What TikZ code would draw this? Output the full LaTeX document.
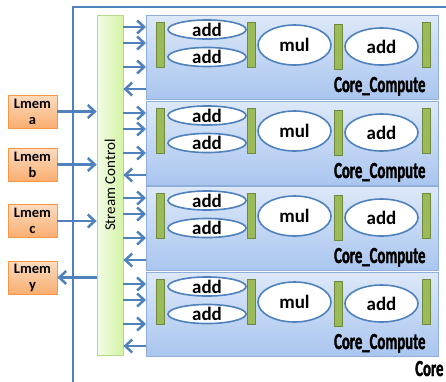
\documentclass[tikz,border=0pt]{standalone}
\usepackage{fontspec}
\setmainfont{Carlito}
\newfontfamily\narrowfont[FakeStretch=0.64,FakeBold=1.6]{Carlito Bold}
\usetikzlibrary{arrows.meta,shapes.geometric}
\definecolor{lnblue}{HTML}{4F81BD}
\definecolor{ccline}{HTML}{8EAEDC}
\definecolor{cctop}{HTML}{DDE8F9}
\definecolor{ccbot}{HTML}{A9C5EF}
\definecolor{orline}{HTML}{F79646}
\definecolor{ortop}{HTML}{FCDCC0}
\definecolor{orbot}{HTML}{F9AE70}
\definecolor{regfill}{HTML}{9BBB59}
\definecolor{regline}{HTML}{71893F}
\definecolor{scline}{HTML}{B5D98A}
\definecolor{scleft}{HTML}{F2FCE6}
\definecolor{scright}{HTML}{D4F4A6}
\tikzset{lm/.append style={draw=orline,thick,top color=ortop,bottom color=orbot,minimum width=49pt,minimum height=33pt,inner sep=0pt,align=center,font=\fontsize{14.5}{16}\selectfont\bfseries}}
\tikzset{cc/.append style={draw=ccline,thick,top color=cctop,bottom color=ccbot,minimum width=292pt,minimum height=84pt,inner sep=0pt,anchor=north west}}
\tikzset{rg/.append style={draw=regline,fill=regfill,thick,minimum width=8pt,minimum height=45pt,inner sep=0pt}}
\tikzset{op/.append style={draw=lnblue,line width=1.6pt,fill=white,ellipse,inner sep=0pt,font=\fontsize{19}{19}\selectfont\bfseries}}
\tikzset{ln/.append style={draw=lnblue,line width=2.2pt,-{Straight Barb[length=7pt,width=13pt,line width=2.5pt]}}}

\begin{document}
\begin{tikzpicture}[x=1pt,y=-1pt]
                \useasboundingbox (0,0) rectangle (446,381);
                \clip (0,0) rectangle (446,381);
                % core frame
                \draw[lnblue,line width=2pt] (73,400) -- (73,7) -- (470,7);
                \node[anchor=base east,font=\narrowfont\fontsize{23}{23}\selectfont] (core) at (447,376) {Core};
                % stream control
                \node[draw=scline,thick,left color=scleft,right color=scright,minimum width=26pt,minimum height=340pt,inner sep=0pt] (sc) at (110,185) {};
                \node[rotate=90,font=\fontsize{15}{15}\selectfont] (sctext) at (sc.center) {Stream Control};
                % local memories
                \node[lm] (la) at (32.5,111.5) {Lmem\\a};
                \node[lm] (lb) at (32.5,164.5) {Lmem\\b};
                \node[lm] (lc) at (32.5,221) {Lmem\\c};
                \node[lm] (ly) at (32.5,277.5) {Lmem\\y};
                \draw[ln] (la.east) -- (la.east -| sc.west);
                \draw[ln] (lb.east) -- (lb.east -| sc.west);
                \draw[ln] (lc.east) -- (lc.east -| sc.west);
                \draw[ln] (ly.east -| sc.west) -- (ly.east);
                % compute cores
                \foreach \i/\t in {1/15,2/101,3/186,4/272}{
                \node[cc] (cc\i) at (146,\t) {};
                \node[rg] (ra\i) at (160,\t+29.5) {};
                \node[rg] (rb\i) at (251.5,\t+29.5) {};
                \node[rg] (rc\i) at (338.5,\t+31.5) {};
                \node[rg] (rd\i) at (426,\t+29.5) {};
                \node[op,minimum width=78pt,minimum height=17pt] (ad\i) at (207,\t+14.5) {add};
                \node[op,minimum width=78pt,minimum height=18pt] (ae\i) at (207,\t+42) {add};
                \node[op,minimum width=73pt,minimum height=40pt] (mu\i) at (294.5,\t+30) {mul};
                \node[op,minimum width=73pt,minimum height=37pt] (af\i) at (381.5,\t+31.5) {add};
                \node[anchor=base east,font=\narrowfont\fontsize{23}{23}\selectfont] (cn\i) at (429,\t+77) {Core\_Compute};
                \draw[ln] (sc.east |- 0,\t+12) -- (cc\i.west |- 0,\t+12);
                \draw[ln] (sc.east |- 0,\t+28) -- (cc\i.west |- 0,\t+28);
                \draw[ln] (sc.east |- 0,\t+52) -- (cc\i.west |- 0,\t+52);
                \draw[ln] (cc\i.west |- 0,\t+74) -- (sc.east |- 0,\t+74);
                }
            \end{tikzpicture}
\end{document}
